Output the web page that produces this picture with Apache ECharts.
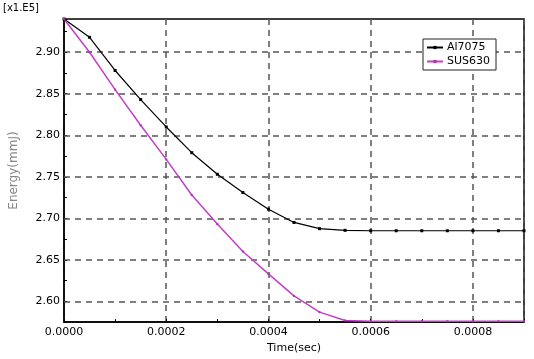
<!DOCTYPE html>
<html>
<head>
<meta charset="utf-8">
<script src="https://cdn.jsdelivr.net/npm/echarts@6/dist/echarts.min.js"></script>
<style>
html,body{margin:0;padding:0;background:#fff;}
#chart{width:534px;height:359px;}
</style>
</head>
<body>
<div id="chart"></div>
<script>
// Time (sec)
var times = [0, 0.00005, 0.0001, 0.00015, 0.0002, 0.00025, 0.0003, 0.00035, 0.0004, 0.00045,
             0.0005, 0.00055, 0.0006, 0.00065, 0.0007, 0.00075, 0.0008, 0.00085, 0.0009];
// Energy (mmJ) x1.E5
var al7075 = [2.940, 2.918, 2.878, 2.843, 2.810, 2.779, 2.753, 2.731, 2.711, 2.695,
              2.6875, 2.6855, 2.685, 2.685, 2.685, 2.685, 2.685, 2.685, 2.685];
var sus630 = [2.940, 2.900, 2.855, 2.812, 2.771, 2.728, 2.693, 2.660, 2.633, 2.6065,
              2.587, 2.577, 2.576, 2.576, 2.576, 2.576, 2.576, 2.576, 2.576];
var seriesNames = ['Al7075', 'SUS630'];
var yGridValues = [2.60, 2.65, 2.70, 2.75, 2.80, 2.85, 2.90];

function pairs(xs, ys) { return xs.map(function (x, i) { return [x, ys[i]]; }); }

var chart = echarts.init(document.getElementById('chart'));
var labelFont = { color: '#000', fontSize: 11, fontFamily: 'DejaVu Sans' };
chart.setOption({
  animation: false,
  backgroundColor: '#fff',
  grid: { left: 55, right: 10, top: 19, bottom: 34, show: true, borderColor: '#000', borderWidth: 1.5 },
  legend: {
    orient: 'vertical', left: 423, top: 39,
    backgroundColor: '#fff', borderColor: '#222', borderWidth: 1, borderRadius: 0,
    padding: [3, 6, 3, 3], itemGap: 3, itemWidth: 16, itemHeight: 4,
    textStyle: { color: '#000', fontSize: 11, fontFamily: 'DejaVu Sans', padding: [0, 0, 0, -1] },
    data: seriesNames
  },
  graphic: [{
    type: 'text', left: 3, top: 3,
    style: { text: '[x1.E5]', fill: '#000', font: '10px DejaVu Sans' }
  }],
  xAxis: {
    type: 'value', min: 0, max: 0.0009, interval: 0.0002,
    name: 'Time(sec)', nameLocation: 'middle', nameGap: 17,
    nameTextStyle: { color: '#000', fontSize: 11, fontFamily: 'DejaVu Sans' },
    axisLine: { show: true, lineStyle: { color: '#000', width: 1.5 } },
    axisTick: { show: true, inside: true, length: 3, lineStyle: { color: '#000' } },
    minorTick: { show: true, splitNumber: 2, length: 3, lineStyle: { color: '#000' } },
    axisLabel: Object.assign({ margin: 5, formatter: function (v) {
      var k = Math.round(v / 0.0002);
      return Math.abs(k * 0.0002 - v) < 1e-9 ? v.toFixed(4) : '';
    } }, labelFont),
    splitLine: { show: true, lineStyle: { color: '#555', type: [6, 5], width: 1.5 } }
  },
  yAxis: {
    type: 'value', min: 2.575, max: 2.94, interval: 0.025,
    name: 'Energy(mmJ)', nameLocation: 'middle', nameGap: 44,
    nameTextStyle: { color: '#888', fontSize: 12, fontFamily: 'DejaVu Sans' },
    axisLine: { show: true, lineStyle: { color: '#000', width: 1.5 } },
    axisTick: { show: true, inside: true, length: 3, lineStyle: { color: '#000' } },
    axisLabel: Object.assign({ margin: 4, formatter: function (v) {
      var k = Math.round(v * 20);
      return Math.abs(k - v * 20) < 1e-6 ? v.toFixed(2) : '';
    } }, labelFont),
    splitLine: { show: false }
  },
  series: [{
    name: seriesNames[0], type: 'line', data: pairs(times, al7075),
    color: '#000', symbol: 'rect', symbolSize: 3, showSymbol: true,
    lineStyle: { color: '#000', width: 1.2 }, itemStyle: { color: '#000' },
    z: 3,
    markLine: {
      silent: true, symbol: 'none', label: { show: false },
      lineStyle: { color: '#555', type: [6, 5], width: 1.5 },
      data: yGridValues.map(function (v) { return { yAxis: v }; }),
      z: 1
    }
  }, {
    name: seriesNames[1], type: 'line', data: pairs(times, sus630),
    color: '#c040c8', symbol: 'rect', symbolSize: 2, showSymbol: true,
    lineStyle: { color: '#c040c8', width: 1.5 }, itemStyle: { color: '#b030b8' },
    z: 3
  }]
});
</script>
</body>
</html>
